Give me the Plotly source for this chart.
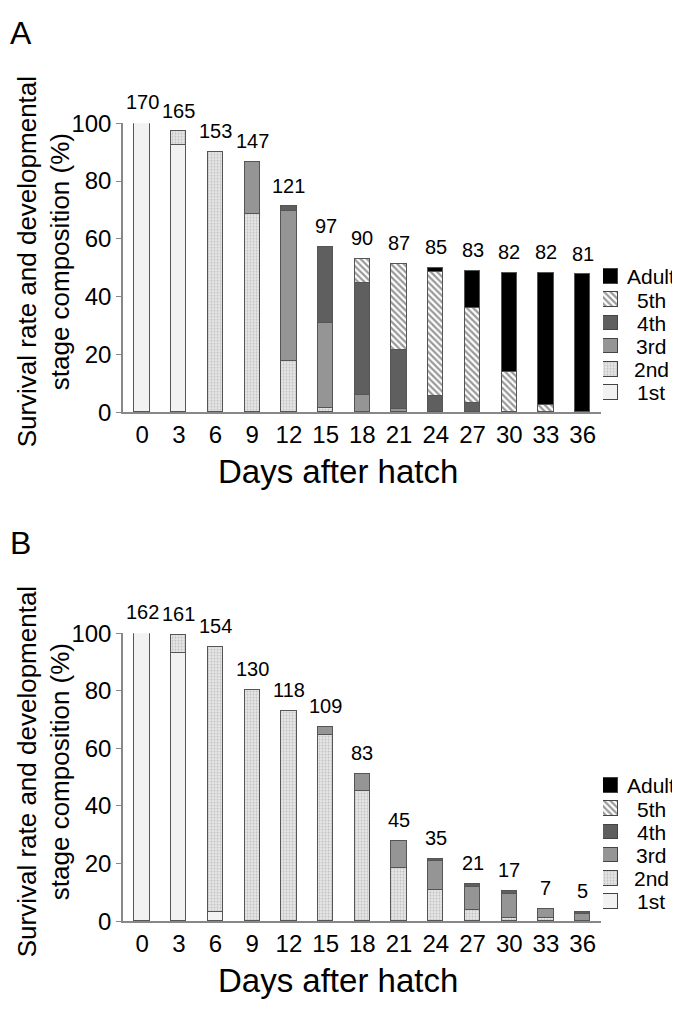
import plotly.graph_objects as go

days = [0, 3, 6, 9, 12, 15, 18, 21, 24, 27, 30, 33, 36]
stages = ["1st", "2nd", "3rd", "4th", "5th", "Adult"]

# panel A
counts_a = [170, 165, 153, 147, 121, 97, 90, 87, 85, 83, 82, 82, 81]
first_a = [100, 92.4, 0, 0, 0, 0, 0, 0, 0, 0, 0, 0, 0]
second_a = [0, 4.7, 90.0, 68.4, 17.8, 1.5, 0, 0, 0, 0, 0, 0, 0]
third_a = [0, 0, 0, 18.1, 51.8, 29.4, 6.0, 1.2, 0, 0, 0, 0, 0]
fourth_a = [0, 0, 0, 0, 1.6, 26.2, 38.6, 20.3, 5.5, 3.0, 0, 0, 0]
fifth_a = [0, 0, 0, 0, 0, 0, 8.3, 29.7, 43.1, 33.1, 14.0, 2.5, 0]
adult_a = [0, 0, 0, 0, 0, 0, 0, 0, 1.4, 12.7, 34.2, 45.7, 47.6]

# panel B
counts_b = [162, 161, 154, 130, 118, 109, 83, 45, 35, 21, 17, 7, 5]
first_b = [100, 93.2, 3.0, 0, 0, 0, 0, 0, 0, 0, 0, 0, 0]
second_b = [0, 6.2, 92.1, 80.2, 72.8, 64.6, 45.2, 18.3, 10.9, 3.7, 1.2, 1.0, 0]
third_b = [0, 0, 0, 0, 0, 2.7, 6.0, 9.5, 9.8, 8.1, 8.2, 3.3, 2.3]
fourth_b = [0, 0, 0, 0, 0, 0, 0, 0, 0.9, 1.2, 1.1, 0, 0.8]
fifth_b = [0] * 13
adult_b = [0] * 13

FONT = "Arial, Liberation Sans, sans-serif"
# the page body keeps its 8px margin, so the figure is 8px smaller and
# every position below is given in screenshot pixels
OFF = 8
W, H = 680 - OFF, 1014 - OFF

styles = {
    "1st": dict(color="#f2f2f2"),
    "2nd": dict(color="#e2e2e2", pattern=dict(shape=".", fgcolor="#9a9a9a",
                                              bgcolor="#e6e6e6", size=3, solidity=0.35)),
    "3rd": dict(color="#959595"),
    "4th": dict(color="#5f5f5f"),
    "5th": dict(color="white", pattern=dict(shape="\\", fgcolor="#333333",
                                            bgcolor="white", size=4.5, solidity=0.5)),
    "Adult": dict(color="black"),
}
outline = dict(color="#555555", width=1.2)


def sx(p):
    return (p - OFF) / W


def sy(p):
    return 1 - (p - OFF) / H


fig = go.Figure()

panels = [
    ("x", "y", "x3", "y3", [first_a, second_a, third_a, fourth_a, fifth_a, adult_a], counts_a),
    ("x2", "y2", "x4", "y4", [first_b, second_b, third_b, fourth_b, fifth_b, adult_b], counts_b),
]

for xa, ya, lx, ly, series, counts in panels:
    for name, vals in zip(stages, series):
        fig.add_trace(go.Bar(
            x=days, y=vals, name=name, xaxis=xa, yaxis=ya, width=1.25,
            marker=dict(line=outline, **styles[name]),
            showlegend=False, hoverinfo="skip",
        ))
    totals = [c / counts[0] * 100 for c in counts]
    for d, t, c in zip(days, totals, counts):
        fig.add_annotation(x=d, y=t, xref=xa, yref=ya, text=str(c), showarrow=False,
                           yanchor="middle", yshift=21,
                           font=dict(size=20, family=FONT, color="black"))
    # legend keys drawn as little bars on their own axes
    for name in stages:
        fig.add_trace(go.Bar(
            x=[1], y=[name], orientation="h", xaxis=lx, yaxis=ly, width=0.63,
            marker=dict(line=dict(color="#444444", width=1), **styles[name]),
            showlegend=False, hoverinfo="skip",
        ))
        fig.add_annotation(x=sx(651), y=name, xref="paper", yref=ly, text=name,
                           showarrow=False, xanchor="center", yanchor="middle",
                           font=dict(size=21, family=FONT, color="black"))

axis_common = dict(
    showgrid=False, zeroline=False, showline=True, linecolor="#888888", linewidth=1.5,
    tickfont=dict(size=24, family=FONT, color="black"),
)
leg_axis = dict(showgrid=False, zeroline=False, showline=False, showticklabels=False, ticks="")

x_dom = [sx(123), sx(601)]
y_ticks = [0, 20, 40, 60, 80, 100]
fig.update_layout(
    width=W, height=H,
    margin=dict(l=0, r=0, t=0, b=0),
    plot_bgcolor="white", paper_bgcolor="white",
    barmode="stack", bargap=0, showlegend=False,
    xaxis=dict(domain=x_dom, range=[-1.56, 37.5], tickvals=days, ticks="",
               anchor="y", **axis_common),
    yaxis=dict(domain=[sy(409), sy(112)], range=[0, 100], tickvals=y_ticks,
               ticks="outside", ticklen=5, tickcolor="#888888", anchor="x", **axis_common),
    xaxis2=dict(domain=x_dom, range=[-1.56, 37.5], tickvals=days, ticks="",
                anchor="y2", **axis_common),
    yaxis2=dict(domain=[sy(932), sy(636)], range=[0, 100], tickvals=y_ticks,
                ticks="outside", ticklen=5, tickcolor="#888888", anchor="x2", **axis_common),
    xaxis3=dict(domain=[sx(603), sx(618)], range=[0, 1], anchor="y3", **leg_axis),
    yaxis3=dict(domain=[sy(401), sy(258)], range=[-0.5, 5.5], anchor="x3",
                categoryorder="array", categoryarray=stages, **leg_axis),
    xaxis4=dict(domain=[sx(603), sx(618)], range=[0, 1], anchor="y4", **leg_axis),
    yaxis4=dict(domain=[sy(924), sy(781)], range=[-0.5, 5.5], anchor="x4",
                categoryorder="array", categoryarray=stages, **leg_axis),
)

ytitle = "Survival rate and developmental<br>stage composition (%)"
for letter, ly_, ty, xt_y in [("A", 19, 255, 470), ("B", 543, 779, 993)]:
    fig.add_annotation(text=letter, x=0, y=sy(ly_), xref="paper", yref="paper",
                       xanchor="left", yanchor="middle", showarrow=False,
                       font=dict(size=32, family=FONT, color="black"))
    fig.add_annotation(text=ytitle, x=sx(44), y=sy(ty), xref="paper", yref="paper",
                       xanchor="center", yanchor="middle", showarrow=False, textangle=-90,
                       font=dict(size=26, family=FONT, color="black"))
    fig.add_annotation(text="Days after hatch", x=sx(338), y=sy(xt_y), xref="paper",
                       yref="paper", xanchor="center", yanchor="middle", showarrow=False,
                       font=dict(size=33, family=FONT, color="black"))

fig.write_html("out.html")
